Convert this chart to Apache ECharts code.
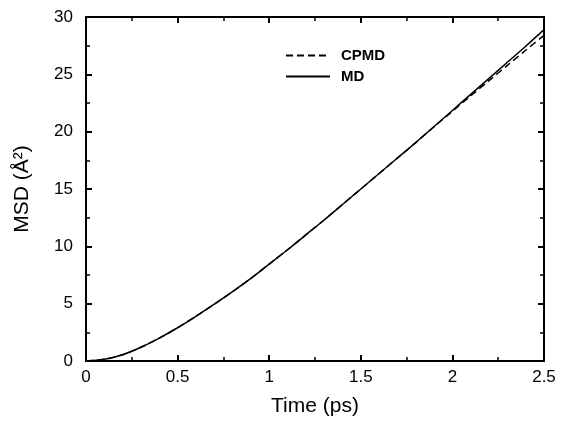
<!DOCTYPE html>
<html>
<head>
<meta charset="utf-8">
<script src="https://cdn.jsdelivr.net/npm/echarts@6/dist/echarts.min.js"></script>
<style>
  html, body { margin: 0; padding: 0; background: #fff; }
  #chart { width: 561px; height: 422px; }
</style>
</head>
<body>
<div id="chart"></div>
<script>
const times = [0, 0.1, 0.2, 0.3, 0.4, 0.5, 0.6, 0.7, 0.8, 0.9, 1.0, 1.1, 1.2,
  1.3, 1.4, 1.5, 1.6, 1.7, 1.8, 1.9, 2.0, 2.1, 2.2, 2.3, 2.4, 2.5];
const msdMD = [0, 0.15, 0.55, 1.2, 2.0, 2.9, 3.9, 4.95, 6.05, 7.2, 8.45, 9.7,
  11.0, 12.3, 13.65, 15.0, 16.35, 17.7, 19.05, 20.45, 21.85, 23.25, 24.65,
  26.05, 27.45, 28.9];
const msdCPMD = [0, 0.15, 0.55, 1.2, 2.0, 2.9, 3.9, 4.95, 6.05, 7.2, 8.45, 9.7,
  11.0, 12.3, 13.65, 15.0, 16.35, 17.7, 19.05, 20.43, 21.78, 23.12, 24.45,
  25.78, 27.1, 28.4];
const xTicks = [0, 0.5, 1, 1.5, 2, 2.5];
const yTicks = [0, 5, 10, 15, 20, 25, 30];

const font = 'Liberation Sans';
const chart = echarts.init(document.getElementById('chart'));

const axisLine = { show: true, onZero: false, lineStyle: { color: '#000', width: 2 } };
const tick = { show: true, inside: true, length: 6, lineStyle: { color: '#000', width: 2 } };
const minor = { show: true, splitNumber: 2, length: 4, lineStyle: { color: '#000', width: 1.5 } };

const baseX = {
  type: 'value',
  min: xTicks[0],
  max: xTicks[xTicks.length - 1],
  interval: 0.5,
  axisLine,
  axisTick: tick,
  minorTick: minor,
  splitLine: { show: false }
};
const baseY = {
  type: 'value',
  min: yTicks[0],
  max: yTicks[yTicks.length - 1],
  interval: 5,
  axisLine,
  axisTick: tick,
  minorTick: minor,
  splitLine: { show: false }
};

chart.setOption({
  animation: false,
  backgroundColor: '#fff',
  grid: { left: 86, right: 17, top: 17, bottom: 55 },
  legend: {
    left: 280,
    top: 43,
    orient: 'vertical',
    itemWidth: 44,
    itemHeight: 14,
    itemGap: 6,
    itemStyle: { color: 'transparent', borderColor: 'transparent', borderWidth: 0 },
    textStyle: {
      fontFamily: font, fontWeight: 'bold', fontSize: 15, color: '#000',
      padding: [0, 0, 0, 6]
    },
    data: ['CPMD', 'MD']
  },
  xAxis: [
    {
      ...baseX,
      position: 'bottom',
      name: 'Time (ps)',
      nameLocation: 'middle',
      nameGap: 35,
      nameTextStyle: { fontFamily: font, fontSize: 21, color: '#000' },
      axisLabel: { fontFamily: font, fontSize: 17, color: '#000', margin: 8 }
    },
    { ...baseX, position: 'top', axisLabel: { show: false } }
  ],
  yAxis: [
    {
      ...baseY,
      position: 'left',
      name: 'MSD (Å²)',
      nameLocation: 'middle',
      nameGap: 53,
      nameTextStyle: { fontFamily: font, fontSize: 21, color: '#000' },
      axisLabel: { fontFamily: font, fontSize: 17, color: '#000', margin: 13 }
    },
    { ...baseY, position: 'right', axisLabel: { show: false } }
  ],
  series: [
    {
      name: 'CPMD',
      type: 'line',
      symbol: 'none',
      smooth: 0.3,
      lineStyle: { color: '#000', width: 1.5, type: [7, 4] },
      itemStyle: { color: '#000' },
      data: times.map((t, i) => [t, msdCPMD[i]])
    },
    {
      name: 'MD',
      type: 'line',
      symbol: 'none',
      smooth: 0.3,
      lineStyle: { color: '#000', width: 1.5 },
      itemStyle: { color: '#000' },
      data: times.map((t, i) => [t, msdMD[i]])
    }
  ]
});
</script>
</body>
</html>
